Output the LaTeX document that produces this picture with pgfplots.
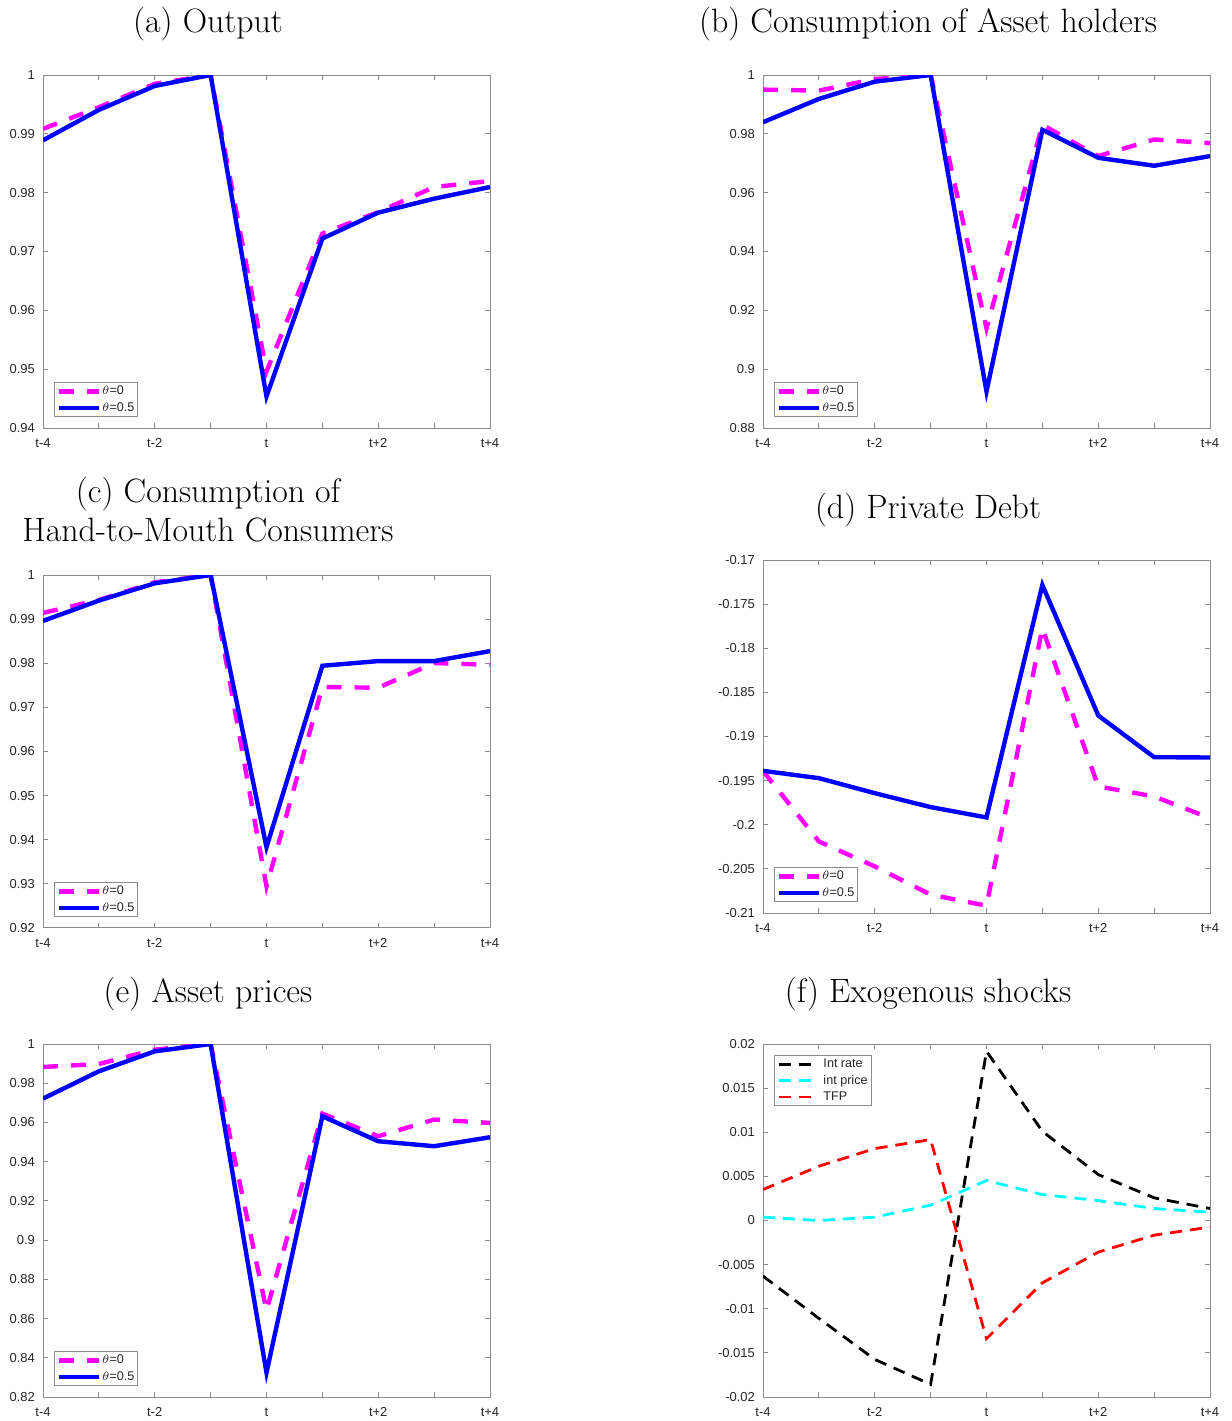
\documentclass[border=0pt]{standalone}
\usepackage{pgfplots}
\pgfplotsset{compat=1.18}
\usepackage{fontspec}
\newfontfamily\arial{Liberation Sans}
\definecolor{axgray}{rgb}{0.55,0.55,0.55}
\definecolor{txtgray}{rgb}{0.15,0.15,0.15}
\definecolor{mymag}{rgb}{1,0,1}
\definecolor{mycyan}{rgb}{0,1,1}
\definecolor{myblue}{rgb}{0,0,1}
\definecolor{myred}{rgb}{1,0,0}
\newcommand\tfont{\fontsize{16.9}{19.5}\selectfont}
\pgfplotsset{
  mystyle/.style={
    scale only axis, width=223.5pt, height=176.5pt,
    xmin=0, xmax=8, xtick={0,...,8},
    xticklabels={t-4,,t-2,,t,,t+2,,t+4},
    tick align=inside, major tick length=2.5pt,
    axis line style={axgray, line width=0.5pt},
    every tick/.style={axgray, line width=0.5pt},
    tick label style={font=\arial\fontsize{6.5}{7.5}\selectfont, text=txtgray},
    yticklabel style={xshift=-0.5pt},
    xticklabel style={yshift=-1.8pt},
    scaled ticks=false,
    /pgf/number format/.cd, fixed, precision=3, assume math mode=true, /pgfplots/.cd,
    legend cell align=left,
    legend style={font=\arial\fontsize{6.3}{7.5}\selectfont, text=txtgray, draw=axgray, line width=0.5pt,
      inner xsep=1pt, inner ysep=0.5pt, row sep=0.5pt,
      nodes={inner sep=0.6pt, text height=5pt, text depth=1.5pt},
      at={(0.0246,0.0312)}, anchor=south west},
    legend image code/.code={\draw[##1] (0pt,0pt) -- (20pt,0pt);},
  },
  magl/.style={mymag, line width=2.2pt, dash pattern=on 7.5pt off 6.5pt},
  bluel/.style={myblue, line width=2.2pt},
}
\begin{document}
\begin{tikzpicture}
\useasboundingbox (0,0) rectangle (616pt,-710.5pt);
% titles
\node[anchor=base, font=\tfont] at (104pt,-16pt) {(a) Output};
\node[anchor=base, font=\tfont] at (464pt,-16pt) {(b) Consumption of Asset holders};
\node[anchor=base, font=\tfont, align=center] at (104pt,-270.5pt) {(c) Consumption of\\Hand-to-Mouth Consumers};
\node[anchor=base, font=\tfont] at (464pt,-259pt) {(d) Private Debt};
\node[anchor=base, font=\tfont] at (104pt,-501pt) {(e) Asset prices};
\node[anchor=base, font=\tfont] at (464pt,-501pt) {(f) Exogenous shocks};

% (a)
\begin{axis}[mystyle, at={(21.5pt,-37.5pt)}, anchor=north west,
  ymin=0.94, ymax=1, ytick={0.94,0.95,0.96,0.97,0.98,0.99,1}]
\addplot[magl] coordinates {(0,0.99085) (1,0.99452) (2,0.9985) (3,1.0) (4,0.9496) (5,0.97305) (6,0.9767) (7,0.98096) (8,0.98198)};
\addlegendentry{$\theta$=0}
\addplot[bluel] coordinates {(0,0.9889) (1,0.99407) (2,0.99814) (3,1.0) (4,0.94537) (5,0.9722) (6,0.97661) (7,0.97898) (8,0.98096)};
\addlegendentry{$\theta$=0.5}
\end{axis}

% (b)
\begin{axis}[mystyle, at={(381.5pt,-37.5pt)}, anchor=north west,
  ymin=0.88, ymax=1, ytick={0.88,0.9,0.92,0.94,0.96,0.98,1}]
\addplot[magl] coordinates {(0,0.99503) (1,0.99469) (2,0.99864) (3,1.0) (4,0.9139) (5,0.98305) (6,0.97243) (7,0.97808) (8,0.97684)};
\addlegendentry{$\theta$=0}
\addplot[bluel] coordinates {(0,0.98395) (1,0.99186) (2,0.99774) (3,1.0) (4,0.89243) (5,0.98136) (6,0.97186) (7,0.96915) (8,0.97243)};
\addlegendentry{$\theta$=0.5}
\end{axis}

% (c)
\begin{axis}[mystyle, at={(21.5pt,-287.5pt)}, anchor=north west,
  ymin=0.92, ymax=1, ytick={0.92,0.93,0.94,0.95,0.96,0.97,0.98,0.99,1}]
\addplot[magl] coordinates {(0,0.99141) (1,0.99435) (2,0.99834) (3,1.0) (4,0.92942) (5,0.97461) (6,0.97446) (7,0.98004) (8,0.97966)};
\addlegendentry{$\theta$=0}
\addplot[bluel] coordinates {(0,0.9896) (1,0.9942) (2,0.99812) (3,1.0) (4,0.9383) (5,0.97943) (6,0.98049) (7,0.98049) (8,0.98275)};
\addlegendentry{$\theta$=0.5}
\end{axis}

% (d)
\begin{axis}[mystyle, at={(381.5pt,-280pt)}, anchor=north west,
  ymin=-0.21, ymax=-0.17, ytick={-0.21,-0.205,-0.2,-0.195,-0.19,-0.185,-0.18,-0.175,-0.17}]
\addplot[magl] coordinates {(0,-0.19389) (1,-0.20189) (2,-0.20472) (3,-0.20792) (4,-0.20917) (5,-0.17774) (6,-0.19566) (7,-0.19679) (8,-0.19925)};
\addlegendentry{$\theta$=0}
\addplot[bluel] coordinates {(0,-0.19389) (1,-0.19472) (2,-0.19642) (3,-0.198) (4,-0.19917) (5,-0.17283) (6,-0.18762) (7,-0.19234) (8,-0.19238)};
\addlegendentry{$\theta$=0.5}
\end{axis}

% (e)
\begin{axis}[mystyle, at={(21.5pt,-522pt)}, anchor=north west,
  ymin=0.82, ymax=1, ytick={0.82,0.84,0.86,0.88,0.9,0.92,0.94,0.96,0.98,1}]
\addplot[magl] coordinates {(0,0.98829) (1,0.98981) (2,0.99711) (3,1.0) (4,0.86418) (5,0.96452) (6,0.95297) (7,0.96146) (8,0.95976)};
\addlegendentry{$\theta$=0}
\addplot[bluel] coordinates {(0,0.97216) (1,0.98608) (2,0.99626) (3,1.0) (4,0.83243) (5,0.96316) (6,0.95042) (7,0.94788) (8,0.95246)};
\addlegendentry{$\theta$=0.5}
\end{axis}

% (f)
\begin{axis}[mystyle, at={(381.5pt,-522pt)}, anchor=north west,
  ymin=-0.02, ymax=0.02, ytick={-0.02,-0.015,-0.01,-0.005,0,0.005,0.01,0.015,0.02},
  legend style={at={(0.0246,0.9688)}, anchor=north west, inner xsep=1.5pt},
  legend image code/.code={\draw[#1] (0pt,0pt) -- (16pt,0pt);}]
\addplot[black, line width=1.4pt, dash pattern=on 6pt off 4pt] coordinates {(0,-0.0063) (1,-0.01109) (2,-0.01574) (3,-0.01857) (4,0.01917) (5,0.01011) (6,0.00521) (7,0.00257) (8,0.00136)};
\addlegendentry{\hspace{5pt}Int rate}
\addplot[mycyan, line width=1.4pt, dash pattern=on 6pt off 4pt] coordinates {(0,0.00038) (1,0.0) (2,0.00038) (3,0.00174) (4,0.00453) (5,0.00294) (6,0.00226) (7,0.00136) (8,0.00094)};
\addlegendentry{\hspace{5pt}int price}
\addplot[myred, line width=1.4pt, dash pattern=on 6pt off 4pt] coordinates {(0,0.00351) (1,0.00615) (2,0.00815) (3,0.00917) (4,-0.0134) (5,-0.00706) (6,-0.00358) (7,-0.00166) (8,-0.00075)};
\addlegendentry{\hspace{5pt}TFP}
\end{axis}
\end{tikzpicture}
\end{document}
